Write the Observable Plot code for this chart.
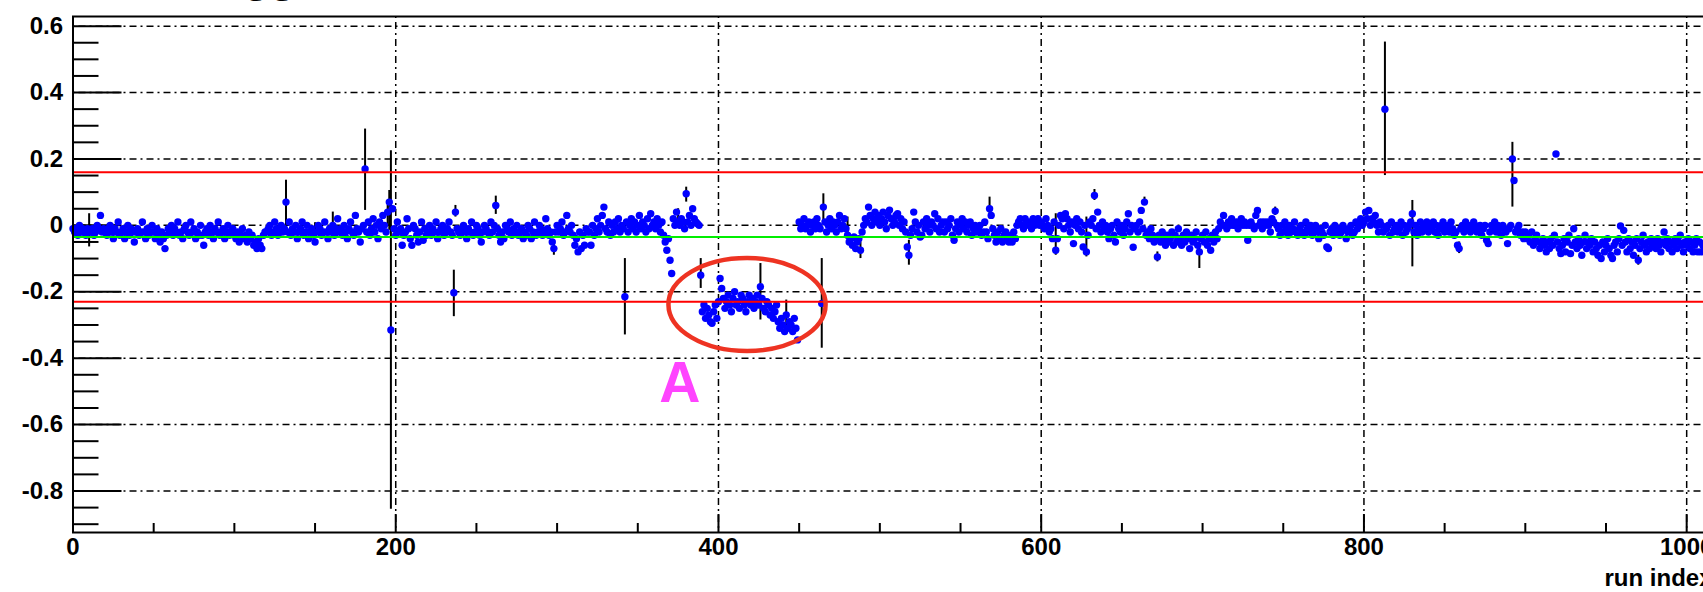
<!DOCTYPE html>
<html><head><meta charset="utf-8">
<script src="https://cdn.jsdelivr.net/npm/d3@7"></script>
<script src="https://cdn.jsdelivr.net/npm/@observablehq/plot@0.6"></script>
<style>
html,body{margin:0;padding:0;background:#fff;overflow:hidden}
svg{max-width:none !important}
</style>
</head><body><div id="chart"></div>
<script>
// value per run (array index = run index)
const rate = [
-.01,-.02,-.01,-.03,.00,-.02,-.01,-.02,-.03,-.01,-.015,-.02,-.01,-.03,-.02,.00,-.01,.03,-.02,-.01,
-.02,-.03,-.01,.00,-.02,-.04,-.01,-.02,.01,-.03,-.02,-.01,-.04,-.02,.00,-.03,-.01,-.02,-.05,-.02,
-.01,-.03,-.02,.01,-.02,-.04,-.01,-.03,-.02,.00,-.02,-.04,-.01,-.03,-.05,-.02,-.04,-.07,-.03,-.01,
-.02,.00,-.03,-.01,-.02,.01,-.03,-.02,-.04,-.01,.00,-.02,-.03,.01,-.02,-.01,-.04,-.02,-.03,.00,
-.03,-.06,-.02,-.01,-.03,.00,-.02,-.04,-.01,-.02,.01,-.03,-.02,-.01,-.04,-.02,.00,-.03,-.02,-.01,
-.03,-.04,-.02,-.05,-.03,-.01,-.04,-.03,-.05,-.02,-.04,-.03,-.06,-.05,-.07,-.04,-.06,-.07,-.03,-.02,
-.02,-.01,.00,-.03,-.02,.01,-.01,-.03,-.02,.00,-.02,-.01,.07,-.02,.01,-.03,-.01,-.02,.00,-.04,
-.02,-.01,.01,-.03,-.02,.00,-.04,-.02,-.01,-.03,-.05,-.02,.00,-.01,-.03,-.02,.01,-.02,-.04,-.01,
-.02,.00,-.03,-.01,.02,-.02,-.01,-.03,.00,-.02,-.04,-.01,.01,-.02,-.03,.03,-.01,-.02,-.05,-.01,
.00,.17,-.02,.01,-.03,-.01,.02,-.02,.00,-.04,.01,-.01,.03,.00,-.02,.04,.07,-.315,.05,-.01,
-.03,.01,-.02,-.01,-.06,-.03,-.02,.02,-.01,-.04,-.06,.00,-.01,-.03,-.05,-.02,.01,-.045,-.01,-.03,
-.02,.00,-.03,-.01,-.02,.01,-.04,-.02,-.01,.00,-.03,-.02,-.01,.01,-.02,-.03,-.203,.04,-.01,-.02,
-.03,-.01,.00,-.02,-.04,-.01,-.02,.01,-.03,-.02,.00,-.01,-.03,-.05,-.02,.00,-.01,-.02,-.03,.01,
-.02,.00,.06,-.01,-.03,-.05,-.02,-.04,.00,-.01,-.02,.01,-.03,-.01,-.02,.00,-.03,-.02,-.01,-.04,
-.02,-.03,.00,-.01,-.04,-.02,.01,-.03,-.02,.00,-.01,-.03,-.02,.02,-.01,-.03,-.02,-.05,-.07,-.02,
.00,-.02,-.01,.01,-.03,-.02,.03,-.01,-.02,.00,-.03,-.06,-.04,-.08,-.02,-.07,-.03,-.06,-.01,-.02,
-.02,-.06,.00,-.03,-.01,.02,-.02,.00,.03,.055,-.01,-.02,.01,-.03,.00,-.02,.01,-.01,.02,-.02,
.00,-.01,-.215,.01,-.02,.00,.02,-.01,.01,-.02,.00,.03,-.01,.01,.00,-.02,.02,-.01,.035,.00,
.01,-.01,.02,.00,-.02,.01,-.03,-.05,-.075,-.04,-.105,-.145,.02,.00,.04,.01,.00,.02,.01,-.01,
.095,.01,.03,.00,.05,.02,.01,.005,.00,-.15,-.26,-.24,-.28,-.25,-.27,-.29,-.295,-.26,-.24,-.28,
-.23,-.16,-.19,-.22,-.25,-.23,-.21,-.24,-.26,-.22,-.20,-.24,-.23,-.25,-.21,-.22,-.24,-.26,-.23,-.21,
-.24,-.22,-.25,-.23,-.21,-.24,-.185,-.22,-.25,-.26,-.23,-.24,-.27,-.25,-.28,-.26,-.24,-.29,-.31,-.28,
-.30,-.32,-.27,-.31,-.29,-.30,-.32,-.28,-.31,-.345,.01,-.01,.00,.02,-.01,.00,.01,-.02,.00,.01,
-.01,.02,.00,-.01,-.235,.055,.01,-.02,.00,.02,-.01,.01,.00,-.02,.01,.03,-.01,.00,.02,-.01,
-.03,-.05,-.04,-.06,-.035,-.07,-.05,-.04,-.075,-.02,.00,.02,.01,.055,.03,.00,.02,.04,.01,.03,
.00,.02,.04,.01,-.01,.03,.046,.02,.00,.01,.03,.035,.00,.02,-.01,.01,-.02,-.065,-.09,-.03,
-.01,.04,.01,-.02,.00,-.035,-.03,.01,-.01,.02,.00,-.02,.01,.00,.035,-.01,.02,-.02,.00,.01,
-.02,.01,-.01,.00,.02,-.03,-.045,-.01,.01,-.02,.00,.02,-.01,.01,-.02,.00,.01,-.03,-.01,.00,
-.02,-.01,.00,-.03,-.02,.01,-.02,-.04,.05,.03,-.01,-.03,-.05,-.02,-.04,-.01,-.05,-.03,-.02,-.04,
-.05,-.03,-.05,-.02,-.04,.00,.01,.02,.00,-.01,.02,.01,.00,.01,-.01,.02,.00,.01,.02,.00,
.01,.00,-.01,.02,.00,-.02,-.01,-.04,.01,-.075,-.04,.00,.03,.02,-.01,.035,.02,.00,-.02,.01,
-.055,.00,.02,-.01,.01,-.02,-.065,.00,-.08,-.03,.01,.00,.02,.09,-.01,.04,.00,-.02,.01,-.01,
.00,-.02,-.04,-.01,.00,-.03,-.05,.01,-.01,-.02,.00,-.03,-.01,.01,.035,-.02,.00,-.066,-.01,.00,
-.02,.01,.045,-.01,.07,-.03,-.02,-.04,-.01,-.03,-.05,-.04,-.095,-.03,-.05,-.02,-.04,-.06,-.03,-.05,
-.04,-.02,-.06,-.03,-.05,-.01,-.04,-.06,-.03,-.05,-.02,-.04,-.07,-.03,-.05,-.04,-.02,-.06,-.08,-.04,
-.03,-.05,-.02,-.06,-.04,-.075,-.03,-.05,-.02,-.04,-.01,.01,.00,.03,.00,-.01,.01,.00,.02,.00,
.00,.01,-.01,.01,.02,.00,.01,.00,-.045,.00,.01,.00,-.01,.03,.045,.00,.01,-.01,.01,.00,
.01,.00,-.02,.02,.01,.043,.00,-.01,-.03,.00,-.02,.01,-.01,-.03,.00,-.02,-.01,.01,-.02,-.03,
-.01,.00,-.02,-.03,.01,-.01,-.02,.00,-.03,-.01,.00,-.02,-.04,-.01,-.02,-.03,.00,-.065,-.07,-.02,
-.01,-.03,.00,-.02,-.01,-.03,-.02,.00,-.01,-.04,-.02,-.01,.00,-.03,-.02,.01,-.01,.00,.02,.00,
.01,.04,.02,.045,.00,.02,.01,.03,.00,-.02,.01,.00,-.02,.35,-.01,.00,-.03,.01,-.02,-.01,
.00,-.02,-.01,.01,-.03,.00,-.02,-.01,.00,.01,.035,-.02,.00,-.03,-.01,.01,-.02,.00,-.01,.01,
-.02,.00,-.01,.01,-.02,.00,-.03,-.01,.00,.01,-.02,-.01,.00,-.02,.01,-.01,-.03,-.02,-.06,-.07,
-.01,.00,-.02,.01,-.01,.00,-.02,-.01,.01,.00,-.02,-.01,.00,-.03,-.01,.00,-.045,-.055,-.02,.00,
-.01,.01,-.02,.00,-.01,-.03,.00,-.01,-.02,-.055,-.01,.00,.20,.135,-.02,-.01,.00,-.03,-.02,-.04,
-.02,-.04,-.03,-.05,-.02,-.06,-.04,-.03,-.05,-.07,-.055,-.04,-.06,-.08,-.05,-.07,-.04,-.06,-.03,.215,
-.05,-.07,-.085,-.06,-.04,-.08,-.05,-.03,-.085,-.06,-.01,-.05,-.07,-.04,-.06,-.09,-.05,-.03,-.07,-.05,
-.06,-.04,-.08,-.05,-.07,-.09,-.06,-.10,-.05,-.08,-.06,-.04,-.07,-.09,-.10,-.06,-.05,-.08,-.04,-.002,
-.06,-.015,-.05,-.08,-.04,-.07,-.05,-.09,-.06,-.04,-.105,-.07,-.05,-.03,-.06,-.08,-.05,-.07,-.04,-.06,
-.05,-.07,-.04,-.06,-.08,-.05,-.02,-.06,-.04,-.07,-.05,-.08,-.06,-.04,-.07,-.05,-.03,-.06,-.08,-.05,
-.06,-.04,-.07,-.05,-.08,-.06,-.04,-.08,-.05,-.08,-.06,-.07,-.05,-.06,-.04,-.07
];
// visible error bars
const barRun  = [10,132,150,161,181,195,196,197,236,237,262,298,342,375,380,389,426,442,464,465,480,488,518,568,609,628,633,664,672,698,745,813,830,859,892,970];
const barLow  = [-.065,.0,-.025,-.01,.045,.0,-.015,-.855,-.275,.025,.033,-.09,-.33,.0,.07,-.19,-.285,-.315,-.37,.015,-.045,-.1,-.12,.02,-.09,-.095,.075,.06,-.11,-.13,.03,.15,-.125,-.085,.055,-.12];
const barHigh = [.035,.136,.008,.04,.29,.06,.105,.225,-.135,.06,.088,-.05,-.10,.05,.115,-.10,-.115,-.225,-.10,.095,.025,-.05,-.045,.085,.035,.025,.108,.085,-.08,-.055,.055,.552,.075,-.05,.25,-.09];

const meanLevel = [-0.035];
const limits = [0.16, -0.23];

const xMajor = [0,200,400,600,800,1000];
const xMinor = [50,100,150,250,300,350,450,500,550,650,700,750,850,900,950];
const yMajor = [-0.8,-0.6,-0.4,-0.2,0,0.2,0.4,0.6];
const yMinor = [-0.9,-0.85,-0.75,-0.7,-0.65,-0.55,-0.5,-0.45,-0.35,-0.3,-0.25,-0.15,-0.1,-0.05,0.05,0.1,0.15,0.25,0.3,0.35,0.45,0.5,0.55];

const xTitle = "run index";
const plotTitle = "Trigger";
const annotLabel = ["A"];
const annotPos = {x: 376, y: -0.477};
const ellipse = {x: 418, y: -0.24, rx: 48.7, ry: 0.140};

const points = rate.map((v, i) => ({run: i, v})).filter(d => d.v != null);
const bars = barRun.map((r, i) => ({run: r, lo: barLow[i], hi: barHigh[i]}));

const W = 1732, H = 592, ML = 72.5, MR = 20, MT = 16, MB = 60;
const PW = W - ML - MR, PH = H - MT - MB;
const dash = "2,4,7,4";

const chart = Plot.plot({
  width: W, height: H,
  marginLeft: ML, marginRight: MR, marginTop: MT, marginBottom: MB,
  x: {domain: [0, 1016]},
  y: {domain: [-0.925, 0.629]},
  style: {fontFamily: "'Liberation Sans', Arial, Helvetica, sans-serif", background: "#fff", color: "#000", overflow: "hidden"},
  marks: [
    Plot.gridX({ticks: xMajor.filter(d => d > 0), stroke: "#000", strokeOpacity: 1, strokeWidth: 1.5, strokeDasharray: dash}),
    Plot.gridY({ticks: yMajor, stroke: "#000", strokeOpacity: 1, strokeWidth: 1.5, strokeDasharray: dash}),
    Plot.ruleY(yMajor, {insetRight: PW - 49, stroke: "#000", strokeWidth: 2}),
    Plot.ruleY(yMinor, {insetRight: PW - 26, stroke: "#000", strokeWidth: 2}),
    Plot.ruleX(xMajor, {insetTop: PH - 18, stroke: "#000", strokeWidth: 2}),
    Plot.ruleX(xMinor, {insetTop: PH - 9, stroke: "#000", strokeWidth: 2}),
    Plot.ruleX(bars, {x: "run", y1: "lo", y2: "hi", stroke: "#000", strokeWidth: 2}),
    Plot.dot(points, {x: "run", y: "v", r: 3.7, fill: "#0000ff", stroke: "none"}),
    Plot.ruleY(limits, {stroke: "#ff0000", strokeWidth: 2}),
    Plot.ruleY(meanLevel, {stroke: "#00ee00", strokeWidth: 2.2}),
    Plot.frame({stroke: "#000", strokeWidth: 2}),
    Plot.axisX({ticks: xMajor, tickSize: 0, tickPadding: 5, fontSize: 24, fontWeight: "bold", tickFormat: d => String(d), label: null}),
    Plot.axisY({ticks: yMajor, tickSize: 0, tickPadding: 10, fontSize: 24, fontWeight: "bold", tickFormat: d => String(d), label: null}),
    Plot.text([xTitle], {frameAnchor: "bottom-right", textAnchor: "end", lineAnchor: "middle", dy: 46, fontSize: 24, fontWeight: "bold", fill: "#000"}),
    Plot.text(annotLabel, {x: () => annotPos.x, y: () => annotPos.y, fill: "#ff44ff", fontSize: 57, fontWeight: "bold"}),
    Plot.text([plotTitle], {frameAnchor: "top-left", textAnchor: "start", lineAnchor: "middle", dx: 118, dy: -38, fontSize: 43, fontWeight: "bold", fill: "#000"})
  ]
});

const sx = chart.scale("x"), sy = chart.scale("y");
d3.select(chart).append("ellipse")
  .attr("cx", sx.apply(ellipse.x))
  .attr("cy", sy.apply(ellipse.y))
  .attr("rx", sx.apply(ellipse.x + ellipse.rx) - sx.apply(ellipse.x))
  .attr("ry", sy.apply(ellipse.y - ellipse.ry) - sy.apply(ellipse.y))
  .attr("fill", "none")
  .attr("stroke", "#ee3322")
  .attr("stroke-width", 4.5);

document.getElementById("chart").appendChild(chart);
</script>
</body></html>
